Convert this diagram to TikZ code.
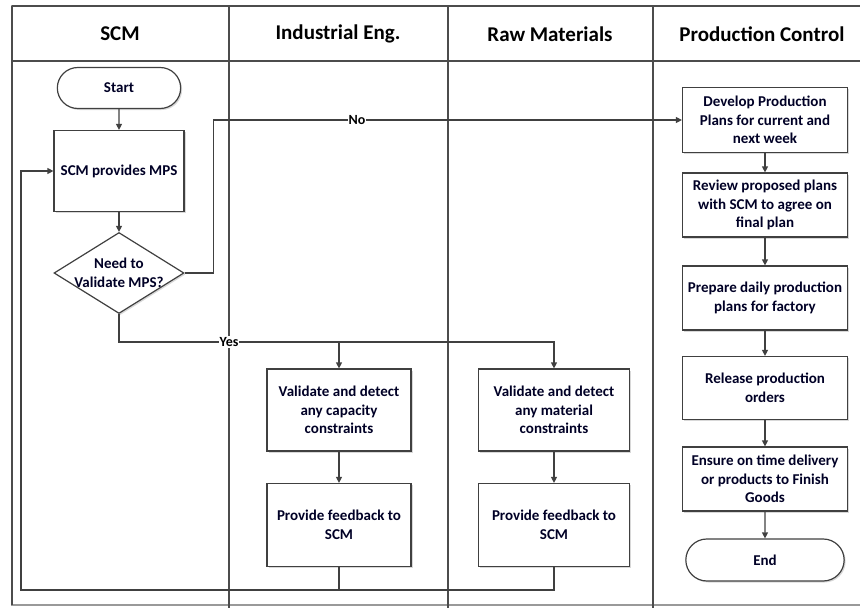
\documentclass[tikz,border=0pt]{standalone}
\usepackage{fontspec}
\setmainfont{Carlito}
\usetikzlibrary{shapes.geometric,shapes.misc,arrows.meta,shadows}

\begin{document}
\begin{tikzpicture}
  [x=1pt,y=-1pt,font=\bfseries,
   line/.style={draw=black!75,line width=1.2pt},
   flow/.style={line,-{Triangle[length=6pt,width=6pt]}},
   lane/.style={draw=black!70,line width=1.3pt},
   head/.style={font=\fontsize{21}{24}\selectfont\bfseries},
   task/.style={rectangle,draw=black!75,line width=1.2pt,fill=white,align=center,
     font=\fontsize{15}{18.5}\selectfont\bfseries,text=black!85!blue,
     drop shadow={shadow xshift=1.5pt,shadow yshift=-1.5pt,fill=black!30}},
   term/.style={task,rounded rectangle,minimum width=130pt,minimum height=41pt},
   choice/.style={task,diamond,aspect=1.6,minimum width=130pt,minimum height=81pt,inner sep=-10pt},
   lbl/.style={fill=white,inner sep=1pt,font=\fontsize{14}{16}\selectfont\bfseries}]
  \useasboundingbox (0,0) rectangle (860,608);
  \clip (0,0) rectangle (860,608);

  % swimlanes
  \draw[lane,draw=black!40] (12,6) rectangle (866,605);
  \draw[lane] (12,6) -- (866,6) (12,6) -- (12,605);
  \draw[lane] (12,61) -- (866,61);
  \foreach \x in {229,448,653}
    \draw[lane] (\x,6) -- (\x,608);
  \node[head] (hscm) at (120,34) {SCM};
  \node[head] (hie)  at (338,34) {Industrial Eng.};
  \node[head] (hraw) at (550,34) {Raw Materials};
  \node[head] (hpc)  at (762,34) {Production Control};

  % SCM
  \node[term] (start) at (119,88) {Start};
  \node[task,minimum width=130pt,minimum height=81pt] (scm) at (119,171) {SCM provides MPS};
  \node[choice] (dec) at (119,273) {Need to\\Validate MPS?};

  % Industrial Eng. and Raw Materials
  \node[task,minimum width=144pt,minimum height=82pt] (capval) at (339,410)
    {Validate and detect\\any capacity\\constraints};
  \node[task,minimum width=144pt,minimum height=83pt] (capfb) at (339,525)
    {Provide feedback to\\SCM};
  \node[task,minimum width=151pt,minimum height=82pt] (matval) at (554,410)
    {Validate and detect\\any material\\constraints};
  \node[task,minimum width=151pt,minimum height=83pt] (matfb) at (554,525)
    {Provide feedback to\\SCM};

  % Production Control
  \node[task,minimum width=165pt,minimum height=65pt] (dev) at (765,120)
    {Develop Production\\Plans for current and\\next week};
  \node[task,minimum width=165pt,minimum height=64pt] (rev) at (765,205)
    {Review proposed plans\\with SCM to agree on\\final plan};
  \node[task,minimum width=165pt,minimum height=64pt] (prep) at (765,298)
    {Prepare daily production\\plans for factory};
  \node[task,minimum width=165pt,minimum height=63pt] (rel) at (765,388)
    {Release production\\orders};
  \node[task,minimum width=165pt,minimum height=64pt] (ens) at (765,479)
    {Ensure on time delivery\\or products to Finish\\Goods};
  \node[term,minimum width=165pt,minimum height=42pt] (end) at (765,560) {End};

  \coordinate (split) at (339,342);
  \coordinate (back) at (21,590);

  \foreach \from/\to in {start/scm,scm/dec,capval/capfb,matval/matfb,dev/rev,rev/prep,prep/rel,rel/ens,ens/end}
    \draw[flow] (\from) -- (\to);

  \draw[flow] (dec.east) -- ++(29,0) |- node[lbl,pos=.653] (no) {No} (dev.west);
  \draw[line] (dec.south) |- node[lbl,pos=.75] (yes) {Yes} (split);
  \draw[flow] (split) -- (capval);
  \draw[flow] (split) -| (matval);
  \draw[line] (matfb.south) |- (back);
  \draw[flow] (capfb.south) |- (back) |- (scm.west);
\end{tikzpicture}
\end{document}
